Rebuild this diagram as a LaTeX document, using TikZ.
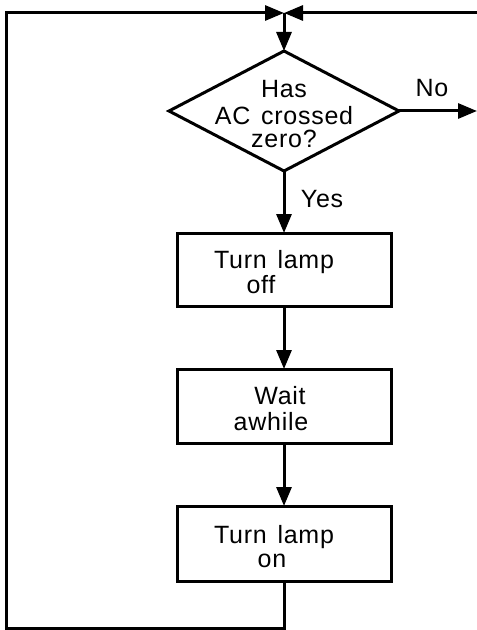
\documentclass[tikz,border=0pt]{standalone}
\usepackage{fontspec}
\setmainfont{Liberation Sans}[LetterSpace=3,WordSpace=1.4]
\usetikzlibrary{arrows.meta,shapes.geometric}
\begin{document}
\begin{tikzpicture}[x=1bp,y=-1bp,
  line width=3bp,
  flow/.style={-{Triangle[length=19bp,width=15bp]}},
  box/.style={draw, rectangle, minimum width=214bp, inner sep=0pt, outer sep=0pt},
  decision/.style={draw, diamond, minimum width=230bp, minimum height=120bp, inner sep=0pt, outer sep=0pt},
  txt/.style={font=\fontsize{25bp}{21bp}\selectfont, anchor=base, inner sep=0pt, align=center},
]
\useasboundingbox (0,0) rectangle (477,630);
\coordinate (J) at (284,13);
\coordinate (TL) at (6,13);
\coordinate (TR) at (477,13);
\coordinate (BL) at (6,628);
\coordinate (BB) at (284,628);
\coordinate (NoEnd) at (477,111);

\node[decision] (D) at (284,111) {};
\node[box, minimum height=73bp] (B1) at (284,269.5) {};
\node[box, minimum height=74bp] (B2) at (284,406) {};
\node[box, minimum height=75bp] (B3) at (284,543.5) {};

\draw[flow] (B3.south) -- (BB) -- (BL) -- (TL) -- (J);
\draw[flow] (TR) -- (J);
\draw[flow] (J) -- (D.north);
\draw[flow] (D.east) -- (NoEnd);
\draw[flow] (D.south) -- (B1.north);
\draw[flow] (B1.south) -- (B2.north);
\draw[flow] (B2.south) -- (B3.north);

\node[txt] (q) at (284,148) {Has\\[6bp]AC crossed\hspace*{16bp}\\[2bp]zero?};
\node[txt] (no) at (432,97) {No};
\node[txt] (yes) at (322,207) {Yes};
\node[txt] (t1) at (274,293) {Turn lamp\\off\hspace*{26bp}};
\node[txt] (t2) at (280,430) {Wait\\[5bp]\hspace*{0bp}awhile\hspace*{18bp}};
\node[txt] (t3) at (274,567) {Turn lamp\\[3bp]on\hspace*{4bp}};
\end{tikzpicture}
\end{document}
